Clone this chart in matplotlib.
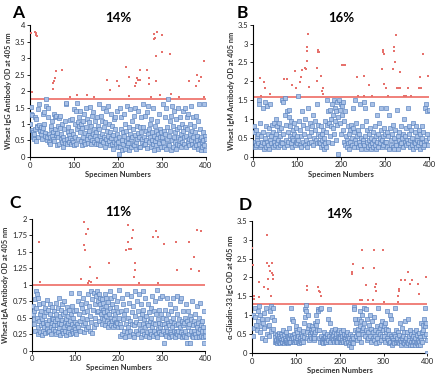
import matplotlib
matplotlib.use("Agg")
import matplotlib.pyplot as plt
import numpy as np

plt.rcParams['font.family'] = ['Lato', 'DejaVu Sans']

# OD values below cut-off (hundredths), 8 chunks of 50 specimens each
a_blue = [
    [100, 153, 130, 128, 82, 75, 60, 55, 70, 85, 120, 115, 48, 95, 90, 62, 145, 160, 98, 85, 80, 70, 92, 55, 78, 88, 130, 135, 100, 72, 65, 175, 155, 50, 60, 150, 120, 70, 45, 62, 40, 85, 95, 65],
    [110, 75, 55, 130, 48, 85, 120, 68, 125, 35, 72, 95, 60, 118, 40, 88, 123, 55, 70, 45, 100, 30, 62, 50, 85, 42, 108, 160, 165, 55, 38, 75, 92, 45, 68, 112, 58, 40, 80, 52, 115, 44, 70, 35],
    [145, 60, 100, 40, 140, 85, 165, 105, 55, 95, 120, 75, 140, 48, 100, 35, 88, 110, 62, 45, 130, 72, 40, 90, 150, 55, 115, 68, 42, 105, 80, 152, 60, 38, 95, 125, 50, 70, 135, 45, 85, 110, 65, 40],
    [75, 120, 55, 95, 40, 160, 85, 65, 35, 125, 50, 110, 70, 150, 45, 90, 60, 30, 105, 55, 140, 80, 42, 65, 155, 48, 100, 35, 75, 130, 58, 40, 95, 25, 68, 115, 45, 85, 120, 38, 55, 140, 70, 30],
    [45, 10, 60, 150, 30, 85, 120, 50, 20, 75, 40, 130, 65, 25, 100, 48, 80, 35, 155, 58, 42, 90, 20, 70, 145, 55, 30, 110, 62, 40, 85, 125, 35, 68, 150, 45, 25, 95, 55, 140, 72, 30, 60, 90],
    [30, 75, 120, 45, 55, 160, 90, 35, 62, 125, 40, 80, 50, 135, 28, 70, 155, 45, 85, 60, 100, 30, 115, 52, 75, 40, 150, 65, 20, 95, 48, 80, 35, 110, 58, 25, 70, 130, 42, 85, 60, 30, 75, 50],
    [60, 160, 45, 80, 30, 120, 70, 25, 150, 55, 90, 40, 175, 65, 35, 110, 80, 20, 125, 50, 155, 30, 95, 60, 140, 45, 75, 25, 115, 85, 40, 150, 62, 35, 90, 120, 55, 30, 70, 100, 45, 80, 140, 60],
    [40, 90, 150, 65, 30, 120, 85, 45, 130, 55, 35, 100, 70, 50, 155, 40, 80, 60, 120, 30, 95, 45, 75, 125, 35, 65, 50, 110, 25, 160, 40, 85, 55, 20, 60, 45, 30, 75, 50, 160, 35, 65, 20, 55],
]
a_red_x = [2, 5, 11, 13, 14, 15, 52, 53, 55, 57, 59, 72, 91, 108, 130, 146, 176, 181, 197, 203, 219, 224, 224,
           239, 241, 244, 246, 249, 250, 265, 270, 270, 275, 281, 282, 285, 288, 287, 287, 296, 299, 300,
           318, 320, 339, 361, 378, 380, 385, 389, 395, 396]
a_red_y = [3.75, 1.98, 3.8, 3.75, 3.7, 3.68, 2.06, 2.25, 2.3, 2.4, 2.62, 2.65, 1.82, 1.88, 1.88, 1.83, 2.35, 2.03, 2.32, 2.15, 2.72, 2.43, 1.85,
           2.15, 2.25, 2.4, 2.35, 2.65, 2.35, 2.65, 2.4, 2.2, 1.82, 3.72, 3.57, 3.6, 3.78, 2.3, 3.06, 1.88, 3.2, 3.7,
           3.12, 1.9, 1.82, 2.3, 2.15, 2.5, 2.3, 2.43, 2.9, 1.83]

b_blue = [
    [80, 65, 40, 25, 30, 70, 55, 45, 35, 60, 140, 150, 25, 90, 55, 30, 40, 130, 65, 20, 35, 145, 50, 80, 25, 135, 40, 60, 30, 75, 20, 45, 140, 55, 35, 85, 25, 65, 40, 90, 30, 50],
    [100, 60, 35, 80, 45, 25, 70, 90, 30, 55, 40, 75, 150, 35, 145, 60, 25, 110, 155, 45, 85, 120, 30, 65, 40, 105, 125, 55, 80, 35, 95, 50, 25, 70, 45, 60, 90, 30, 40, 75, 55, 35],
    [160, 45, 95, 30, 70, 25, 55, 120, 40, 85, 60, 30, 100, 45, 75, 25, 130, 55, 35, 90, 65, 40, 80, 110, 30, 50, 70, 95, 45, 140, 35, 60, 85, 40],
    [55, 35, 80, 25, 60, 45, 30, 70, 20, 50, 95, 35, 65, 25, 150, 85, 40, 120, 90, 55, 125, 80, 100, 140, 35, 110, 75, 150, 60, 130, 95, 45, 120, 85, 145, 105, 7, 150, 90, 125, 60, 140],
    [110, 135, 70, 145, 95, 40, 120, 30, 55, 25, 45, 80, 35, 60, 20, 70, 40, 85, 30, 50, 75, 130, 25, 65, 45, 150, 90, 35, 55, 25, 70, 40, 60, 30, 140, 50, 20, 80, 45, 35],
    [145, 30, 130, 55, 20, 95, 40, 70, 25, 60, 45, 30, 75, 20, 50, 140, 35, 65, 25, 45, 80, 30, 55, 20, 110, 40, 60, 25, 90, 35, 50, 70, 130, 45, 25, 55, 30, 75, 60, 40],
    [130, 40, 65, 25, 55, 20, 110, 75, 30, 45, 60, 25, 85, 50, 20, 70, 40, 30, 125, 55, 20, 65, 45, 30, 80, 35, 50, 60, 25, 100, 40, 55, 75, 30, 45],
    [130, 35, 60, 80, 25, 45, 70, 30, 50, 90, 20, 40, 65, 35, 80, 25, 55, 45, 30, 70, 40, 20, 60, 35, 80, 50, 25, 65, 40, 30, 130, 140, 45, 120, 60, 30, 125, 50],
]
b_red_x = [15, 17, 25, 27, 39, 70, 76, 89, 95, 97, 106, 108, 110, 119, 120, 122, 122, 123, 125, 127,
           145, 146, 147, 148, 149, 155, 157, 158, 159, 203, 206, 209, 237, 239, 251, 253, 263, 270,
           294, 295, 296, 297, 298, 303, 307, 319, 320, 321, 323, 324, 326, 330, 333, 333,
           344, 348, 353, 359, 376, 379, 382, 386, 398]
b_red_y = [2.08, 1.6, 1.97, 1.82, 1.66, 2.06, 2.05, 1.9, 2.26, 1.82, 1.99, 2.12, 2.3, 2.35, 2.32, 2.92, 2.8, 2.54, 3.25, 1.84,
           2.35, 2.02, 2.82, 2.77, 2.79, 2.15, 1.73, 1.65, 1.83, 2.43, 2.43, 2.43, 2.12, 1.62, 1.6, 2.15, 1.9, 1.62,
           2.32, 2.82, 2.78, 1.93, 2.72, 1.82, 1.62, 2.32, 2.8, 2.92, 2.52, 3.23, 1.82, 1.83, 1.83, 2.25,
           1.62, 1.62, 1.82, 1.62, 1.82, 2.12, 1.82, 2.72, 2.13]

c_blue = [
    [68, 55, 60, 48, 40, 78, 30, 65, 90, 85, 50, 35, 80, 25, 45, 70, 28, 55, 38, 60, 24, 48, 42, 72, 30, 52, 35, 65, 26, 44, 58, 33, 77, 40, 28, 62, 46, 30, 55, 70, 36, 25, 50, 42, 66, 32, 48, 38],
    [60, 30, 45, 72, 25, 55, 38, 48, 65, 28, 42, 80, 34, 52, 24, 62, 40, 30, 70, 46, 26, 56, 36, 75, 44, 30, 58, 24, 48, 38, 66, 28, 52, 42, 34, 62, 25, 45, 88, 55, 30, 40, 68, 26, 50, 36, 60, 32, 44, 28],
    [25, 62, 40, 75, 35, 55, 88, 45, 30, 70, 50, 65, 38, 80, 28, 58, 42, 72, 33, 60, 48, 85, 36, 68, 30, 52, 90, 44, 27, 78, 62, 35, 88, 50, 70, 40, 82, 58],
    [90, 75, 60, 85, 45, 70, 80, 55, 65, 50, 78, 40, 62, 72, 48, 58, 86, 38, 68, 52, 80, 45, 60, 35, 74, 55, 42, 90, 65, 38, 50, 80, 45, 70, 36, 60, 48, 82, 40, 55, 38, 66, 44, 75, 42, 58, 35, 50],
    [92, 40, 22, 60, 35, 80, 25, 48, 70, 30, 55, 20, 62, 40, 85, 28, 50, 35, 72, 22, 45, 30, 82, 40, 58, 25, 68, 38, 20, 52, 90, 30, 44, 75, 25, 60, 40, 85, 32, 50],
    [70, 20, 55, 30, 90, 40, 62, 25, 48, 35, 80, 22, 52, 42, 28, 70, 38, 58, 20, 45, 30, 65, 25, 50, 82, 35, 42, 22, 60, 30, 75, 40, 25, 55, 92, 20, 48, 32, 62, 28, 42, 80, 36, 55, 25, 40],
    [82, 30, 50, 12, 40, 25, 62, 35, 22, 48, 80, 30, 42, 55, 20, 38, 70, 28, 45, 25, 60, 35, 22, 50, 80, 30, 42, 20, 65, 38, 28, 55, 82, 25, 40, 30, 48, 22, 75, 35, 80, 28, 45, 20, 38, 60, 25],
    [42, 22, 50, 30, 70, 20, 45, 12, 35, 60, 25, 40, 12, 52, 30, 48, 22, 75, 38, 20, 45, 30, 55, 25, 40, 20, 68, 35, 28, 42, 20, 50, 32, 72, 22, 38, 30, 45, 20, 35, 12, 60, 30, 22],
]
c_red_x = [15, 17, 114, 120, 121, 123, 124, 128, 130, 132, 134, 135, 151, 178,
           217, 221, 222, 225, 229, 231, 234, 236, 237, 239, 248, 280, 286, 290, 290, 304,
           332, 334, 362, 367, 374, 382, 387, 391]
c_red_y = [1.65, 1.04, 1.08, 1.95, 1.6, 1.52, 1.77, 1.85, 1.03, 1.05, 1.26, 1.04, 1.1, 1.33,
           1.52, 1.91, 1.64, 1.54, 1.54, 1.71, 1.83, 1.11, 1.33, 1.22, 1.02, 1.72, 1.82, 1.72, 1.02, 1.62,
           1.64, 1.22, 1.64, 1.24, 1.42, 1.83, 1.21, 1.82]

d_blue = [
    [45, 100, 65, 95, 120, 75, 60, 110, 85, 125, 55, 100, 70, 90, 40, 80, 65, 105, 35, 120, 50, 90, 70, 45, 75, 110, 58, 125, 95, 62, 118, 88],
    [50, 30, 42, 28, 35, 48, 25, 40, 32, 52, 30, 45, 26, 38, 50, 34, 28, 44, 30, 60, 36, 25, 48, 32, 40, 28, 55, 35, 45, 30, 42, 25, 38, 65, 30, 48, 28, 40, 120, 90, 45, 32, 85, 38, 28, 50, 35, 42, 30, 60],
    [70, 38, 55, 30, 45, 25, 62, 40, 32, 50, 28, 45, 35, 58, 30, 42, 80, 95, 115, 127, 110, 55, 40, 100, 65, 35, 75, 50, 45, 60, 38, 70, 55, 42, 62, 35, 50, 40, 55, 80, 75, 100, 85, 60, 115],
    [110, 60, 40, 115, 30, 45, 120, 35, 28, 40, 25, 55, 38, 30, 45, 42, 35, 28, 50, 40, 90, 35, 115, 45, 80, 30, 55, 38, 42, 60, 35, 48, 30, 55, 40, 62, 32, 45, 50, 35, 28, 42, 55, 38, 60, 30],
    [40, 55, 30, 45, 35, 60, 28, 42, 50, 38, 32, 48, 25, 40, 55, 30, 45, 20, 38, 28, 50, 15, 35, 30, 45, 25, 40, 122, 115, 90, 60, 45, 80, 35, 55, 62, 50, 90, 40, 110, 70, 85, 30, 60],
    [100, 65, 50, 120, 80, 45, 60, 115, 35, 90, 55, 40, 75, 100, 45, 62, 30, 85, 55, 40, 95, 35, 60, 45, 25, 70, 40, 120, 55, 30, 50, 65, 35, 75, 45, 85, 60, 40],
    [70, 45, 80, 30, 55, 62, 40, 110, 35, 60, 25, 50, 100, 30, 45, 90, 22, 40, 35, 30, 50, 25, 45, 120, 60, 28, 35, 40, 30, 55, 25, 48, 35, 80, 30, 20, 65, 40, 45, 30, 55, 25, 85, 35],
    [20, 40, 30, 55, 25, 90, 35, 45, 22, 60, 30, 50, 20, 38, 28, 45, 32, 55, 22, 40, 30, 60, 25, 48, 35, 20, 52, 30, 42, 22, 80, 35, 55, 30, 75, 60, 90, 45, 70, 120, 50, 80, 35, 0],
]
d_red_x = [0, 1, 3, 5, 15, 16, 26, 33, 33, 35, 37, 39, 41, 42, 44, 46, 47, 47,
           125, 126, 150, 153, 155, 157,
           227, 229, 231, 246, 250, 251, 254, 261, 264, 275, 278, 278, 281, 283, 282, 299, 300,
           332, 332, 335, 336, 339, 350, 355, 360, 364, 379, 381, 396]
d_red_y = [2.77, 2.32, 1.5, 1.44, 1.88, 1.47, 1.75, 3.14, 2.39, 1.97, 1.7, 2.3, 2.17, 1.52, 2.13, 2.39, 2.06, 1.95,
           1.78, 1.66, 1.74, 1.64, 1.62, 1.51,
           2.1, 2.15, 2.35, 1.41, 1.41, 2.72, 2.25, 1.81, 1.4, 1.41, 2.72, 2.25, 1.75, 1.84, 1.64, 2.72, 1.35,
           1.35, 1.5, 1.64, 1.7, 1.94, 1.94, 2.15, 1.84, 1.93, 1.82, 1.55, 2.0]

cutoffs = [1.77, 1.58, 1.0, 1.3]
percents = ['14%', '16%', '11%', '14%']
letters = ['A', 'B', 'C', 'D']
ylabels = ['Wheat IgG Antibody OD at 405 nm', 'Wheat IgM Antibody OD at 405 nm',
           'Wheat IgA Antibody OD at 405 nm', '\u03b1-Gliadin-33 IgG OD at 405 nm']
ymax = [4, 3.5, 2, 3.5]
ystep = [0.5, 0.5, 0.25, 0.5]

panels = [(a_blue, a_red_x, a_red_y), (b_blue, b_red_x, b_red_y),
          (c_blue, c_red_x, c_red_y), (d_blue, d_red_x, d_red_y)]

# axes boxes in figure fractions
boxes = [[0.068, 0.588, 0.399, 0.346], [0.574, 0.589, 0.399, 0.346],
         [0.073, 0.080, 0.392, 0.346], [0.572, 0.074, 0.397, 0.346]]
letter_pos = [(-0.065, 1.03), (-0.06, 1.03), (-0.10, 1.06), (-0.04, 1.06)]

fig = plt.figure(figsize=(4.41, 3.81), dpi=100)

for i, (blue, rx, ry) in enumerate(panels):
    ax = fig.add_axes(boxes[i])
    for k, chunk in enumerate(blue):
        xs = np.linspace(50 * k + 1, 50 * k + 50, len(chunk))
        ax.scatter(xs, np.array(chunk) / 100.0, s=7, marker='s', facecolor='#a9c1e6',
                   edgecolor='#5680be', linewidth=0.45, zorder=3)
    ax.scatter(rx, ry, s=4.5, marker='s', color='#e6716c', linewidth=0, zorder=3)
    ax.axhline(cutoffs[i], color='#f0807a', lw=1.4, zorder=2)

    ax.set_xlim(0, 400)
    ax.set_ylim(0, ymax[i])
    ax.set_xticks([0, 100, 200, 300, 400])
    yt = np.arange(0, ymax[i] + 0.001, ystep[i])
    ax.set_yticks(yt)
    ax.set_yticklabels(['%g' % v for v in yt])
    for s in ['top', 'right']:
        ax.spines[s].set_visible(False)
    for s in ['left', 'bottom']:
        ax.spines[s].set_linewidth(0.8)
    ax.tick_params(labelsize=5.5, length=2, width=0.6, pad=1.5, labelcolor='#222222')
    ax.set_xlabel('Specimen Numbers', fontsize=5.5, fontweight='bold', labelpad=1.5, color='#333333')
    ax.set_ylabel(ylabels[i], fontsize=5.3, fontweight='bold', labelpad=2, color='#333333')
    ax.set_title(percents[i], fontsize=9.5, fontweight='bold', pad=2)
    ax.text(letter_pos[i][0], letter_pos[i][1], letters[i], transform=ax.transAxes, fontsize=12.5,
            fontweight='bold', ha='center', va='bottom')

fig.savefig('out.png', dpi=100)
